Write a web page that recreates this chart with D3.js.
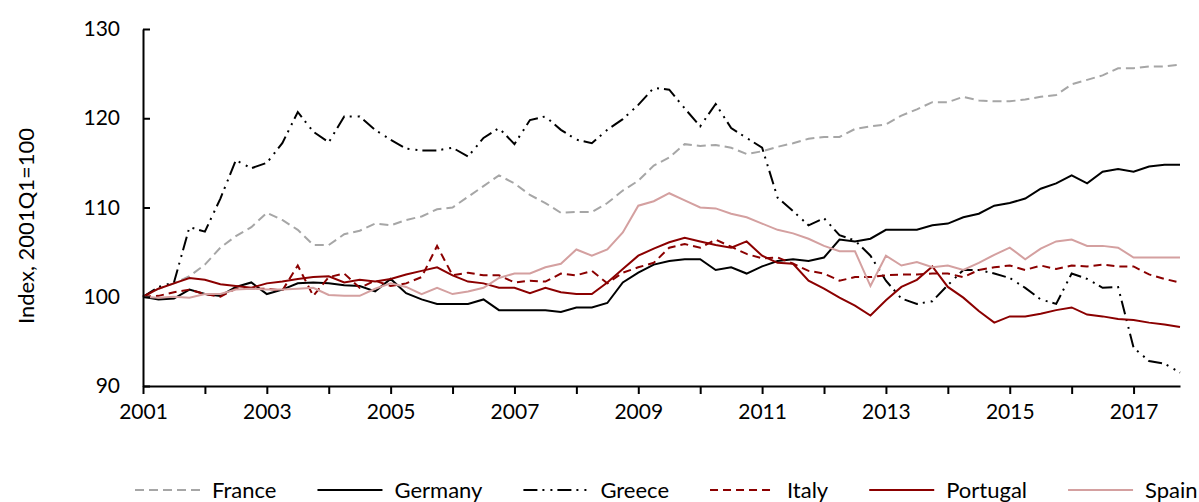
<!DOCTYPE html>
<html>
<head>
<meta charset="utf-8">
<script src="https://cdn.jsdelivr.net/npm/d3@7"></script>
<style>
  body { margin: 0; background: #fff; }
  svg { display: block; font-family: Lato, "Open Sans", sans-serif; }
  .axis path, .axis line { stroke: #000; stroke-width: 2px; }
  .axis text { font-family: Lato, "Open Sans", sans-serif; font-size: 21px; fill: #000; }
</style>
</head>
<body>
<div id="chart"></div>
<script>
// quarterly index, 2001Q1 = 100 (2001Q1 .. 2017Q4)
const france = [100, 100.9, 101.5, 102.3, 103.6, 105.5, 106.8, 107.8, 109.4, 108.6, 107.5, 105.8, 105.8, 107.0, 107.4, 108.2,
  108.0, 108.6, 109.0, 109.8, 110.0, 111.2, 112.4, 113.6, 112.7, 111.4, 110.5, 109.4, 109.5, 109.5, 110.5, 111.9,
  113.0, 114.7, 115.6, 117.1, 116.9, 117.0, 116.7, 116.0, 116.3, 116.8, 117.2, 117.7, 117.9, 117.9, 118.8, 119.1,
  119.3, 120.3, 121.0, 121.8, 121.8, 122.4, 122.0, 121.9, 121.9, 122.1, 122.4, 122.6, 123.8, 124.3, 124.8, 125.6,
  125.6, 125.8, 125.8, 126.0];
const germany = [100, 99.7, 99.8, 100.8, 100.3, 100.1, 101.1, 101.6, 100.3, 100.8, 101.5, 101.6, 101.5, 101.3, 101.2, 100.6,
  102.0, 100.4, 99.7, 99.2, 99.2, 99.2, 99.7, 98.5, 98.5, 98.5, 98.5, 98.3, 98.8, 98.8, 99.3, 101.6,
  102.7, 103.6, 104.0, 104.2, 104.2, 103.0, 103.3, 102.6, 103.4, 104.0, 104.2, 104.0, 104.4, 106.4, 106.2, 106.5,
  107.5, 107.5, 107.5, 108.0, 108.2, 108.9, 109.3, 110.2, 110.5, 111.0, 112.1, 112.7, 113.6, 112.7, 114.0, 114.3,
  114.0, 114.6, 114.8, 114.8];
const greece = [100, 101.1, 101.6, 107.8, 107.3, 111.0, 115.3, 114.4, 115.0, 117.2, 120.7, 118.5, 117.3, 120.2, 120.2, 118.7,
  117.6, 116.6, 116.4, 116.4, 116.7, 115.7, 117.8, 118.9, 117.1, 119.8, 120.2, 118.7, 117.6, 117.2, 118.7, 119.9,
  121.5, 123.4, 123.2, 121.1, 119.1, 121.6, 118.9, 117.8, 116.7, 111.1, 109.6, 108.0, 108.8, 106.9, 106.3, 104.6,
  101.8, 99.8, 99.2, 99.5, 101.3, 103.0, 103.0, 102.6, 102.1, 101.0, 99.7, 99.2, 102.6, 102.0, 101.0, 101.1,
  94.3, 92.8, 92.5, 91.5];
const italy = [100, 100.1, 100.5, 100.8, 100.3, 100.0, 100.9, 100.9, 100.9, 100.7, 103.5, 100.1, 102.2, 102.6, 101.0, 101.8,
  101.2, 101.5, 102.2, 105.7, 102.4, 102.7, 102.4, 102.4, 101.6, 101.8, 101.7, 102.6, 102.4, 102.9, 101.5, 102.7,
  103.3, 103.8, 105.5, 105.9, 105.5, 106.4, 105.6, 104.8, 104.3, 104.4, 103.7, 102.9, 102.6, 101.8, 102.2, 102.2,
  102.4, 102.5, 102.5, 102.6, 102.6, 102.2, 103.0, 103.3, 103.5, 103.0, 103.5, 103.1, 103.5, 103.4, 103.6, 103.4,
  103.4, 102.5, 102.0, 101.6];
const portugal = [100, 100.9, 101.5, 102.1, 101.9, 101.4, 101.2, 101.0, 101.5, 101.7, 102.0, 102.2, 102.3, 101.6, 101.9, 101.7,
  102.0, 102.5, 102.9, 103.3, 102.4, 101.7, 101.5, 101.0, 101.0, 100.4, 101.0, 100.5, 100.3, 100.3, 101.6, 103.1,
  104.6, 105.4, 106.1, 106.6, 106.2, 105.8, 105.5, 106.2, 104.6, 103.8, 103.7, 101.8, 100.9, 99.9, 99.0, 97.9,
  99.6, 101.1, 101.9, 103.4, 101.1, 99.9, 98.4, 97.1, 97.8, 97.8, 98.1, 98.5, 98.8, 98.0, 97.8, 97.5,
  97.4, 97.1, 96.9, 96.6];
const spain = [100, 99.9, 100.0, 99.9, 100.3, 100.3, 100.8, 100.9, 100.8, 100.8, 100.9, 101.0, 100.2, 100.1, 100.1, 100.9,
  101.5, 101.1, 100.3, 101.0, 100.3, 100.6, 101.0, 102.1, 102.6, 102.6, 103.3, 103.7, 105.3, 104.6, 105.3, 107.2,
  110.2, 110.7, 111.6, 110.8, 110.0, 109.9, 109.3, 108.9, 108.2, 107.5, 107.1, 106.5, 105.7, 105.1, 105.1, 101.2,
  104.6, 103.5, 103.9, 103.3, 103.5, 103.0, 103.8, 104.7, 105.5, 104.2, 105.4, 106.2, 106.4, 105.7, 105.7, 105.5,
  104.4, 104.4, 104.4, 104.4];

const startYear = 2001;
const yearTicks = d3.range(2001, 2018);
const yTicks = [90, 100, 110, 120, 130];

const series = [
  { name: 'France', values: france, color: '#a6a6a6', dash: '9,5' },
  { name: 'Germany', values: germany, color: '#000000', dash: null },
  { name: 'Greece', values: greece, color: '#000000', dash: '14,5,2,6,2,5' },
  { name: 'Italy', values: italy, color: '#8b0000', dash: '8,5' },
  { name: 'Portugal', values: portugal, color: '#8b0000', dash: null },
  { name: 'Spain', values: spain, color: '#d4a0a0', dash: null }
];

const W = 1199, H = 502;
const margin = { top: 29, right: 19, bottom: 116, left: 143 };
const width = W - margin.left - margin.right;
const height = H - margin.top - margin.bottom;

const svg = d3.select('#chart').append('svg')
  .attr('width', W)
  .attr('height', H);

const g = svg.append('g')
  .attr('transform', 'translate(' + margin.left + ',' + margin.top + ')');

const x = d3.scaleLinear().domain([2001, 2017.75]).range([0, width]);
const y = d3.scaleLinear().domain([90, 130]).range([height, 0]);

const line = d3.line()
  .x((d, i) => x(startYear + i / 4))
  .y(d => y(d));

// lines
series.forEach(s => {
  g.append('path')
    .datum(s.values)
    .attr('fill', 'none')
    .attr('stroke', s.color)
    .attr('stroke-width', 2)
    .attr('stroke-dasharray', s.dash)
    .attr('d', line);
});

// axes
const xAxis = d3.axisBottom(x)
  .tickValues(yearTicks)
  .tickSize(8)
  .tickPadding(10)
  .tickSizeOuter(0)
  .tickFormat(d => (d % 2 === 1 ? d : ''));

g.append('g')
  .attr('class', 'axis')
  .attr('transform', 'translate(0,' + height + ')')
  .call(xAxis);

const yAxis = d3.axisLeft(y)
  .tickValues(yTicks)
  .tickSize(-7)
  .tickPadding(23)
  .tickSizeOuter(0);

g.append('g')
  .attr('class', 'axis')
  .call(yAxis);

// y label
svg.append('text')
  .attr('transform', 'translate(34,226) rotate(-90)')
  .attr('text-anchor', 'middle')
  .style('font-size', '22px')
  .text('Index, 2001Q1=100');

// legend
const legend = svg.append('g').attr('transform', 'translate(135,490)');
let lx = 0;
series.forEach(s => {
  const item = legend.append('g').attr('transform', 'translate(' + lx + ',0)');
  item.append('line')
    .attr('x1', 0).attr('x2', 65)
    .attr('y1', 0).attr('y2', 0)
    .attr('stroke', s.color)
    .attr('stroke-width', 2)
    .attr('stroke-dasharray', s.dash);
  const t = item.append('text')
    .attr('x', 77)
    .attr('dy', '0.35em')
    .style('font-size', '22px')
    .text(s.name);
  lx += 77 + t.node().getComputedTextLength() + 41;
});
</script>
</body>
</html>
